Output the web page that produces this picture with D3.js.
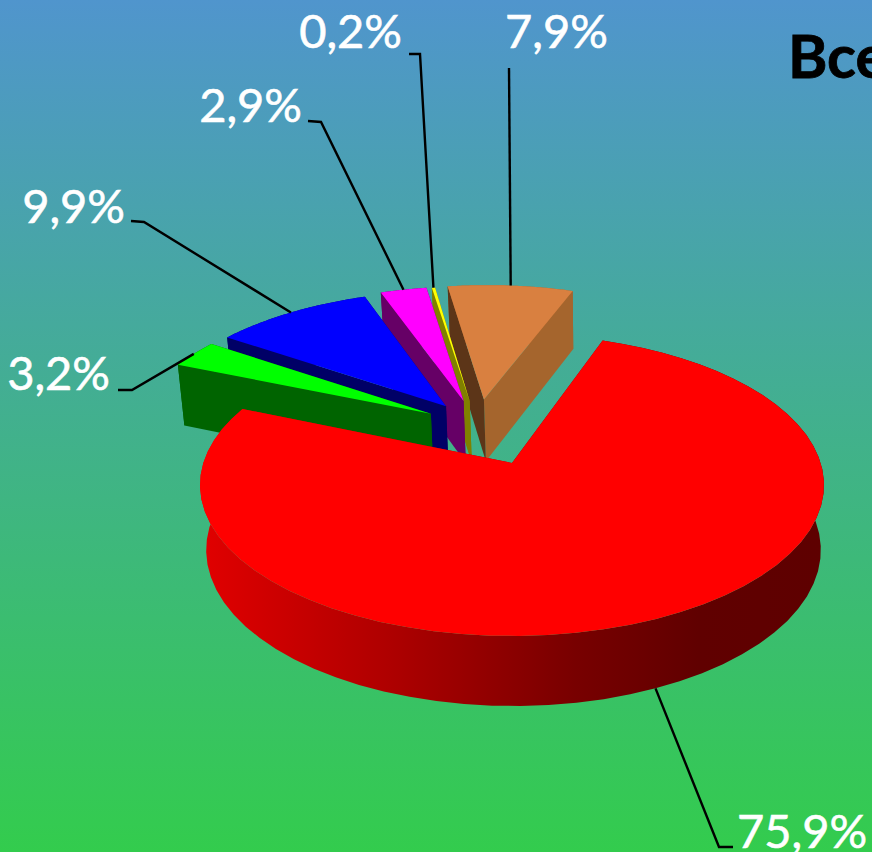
<!DOCTYPE html>
<html><head><meta charset="utf-8">
<script src="https://cdnjs.cloudflare.com/ajax/libs/d3/7.8.5/d3.min.js"></script>
<style>html,body{margin:0;padding:0;overflow:hidden;background:#4a9fb0}svg{display:block}text{font-family:Lato,"Open Sans",sans-serif}</style>
</head><body><svg id="c" width="872" height="852"></svg>
<script>
const categories = ["a","b","c","d","e","f"];
const labels = ["75,9%","3,2%","9,9%","2,9%","0,2%","7,9%"];
const values = [75.9,3.2,9.9,2.9,0.2,7.9];
const topColors = ["#ff0000","#00ff00","#0000ff","#ff00ff","#ffff00","#d98040"];
const wallColors = ["url(#redWall)","#006400","#000066","#660066","#808000","#a5652d"];
const startWallColors = ["#800000","#006400","#000066","#660066","#808000","#5c3518"];
const title = "Все";
// explosion of each slice away from the pie centre, in radius units
const explode = [0.23,0.23,0.23,0.23,0.235,0.25];
// small shifts of the exploded slices in the pie plane (world units)
const shiftU = [0,0.019,0.008,-0.015,-0.015,-0.027];
const shiftV = [0,-0.03,-0.015,-0.015,-0.005,0];
const labelPos = [[737,848,"start"],[110,390,"end"],[125,223,"end"],[302,122,"end"],[402,48,"end"],[505,48,"start"]];
const elbows = [[[733,847],[719,847]],[[118,390],[132,390]],[[131,221],[144,222]],[[308,121],[321,122]],[[409,54],[420,54]],[[509,68]]];

const W=872,H=852;
const svg=d3.select("#c");
const defs=svg.append("defs");
const bg=defs.append("linearGradient").attr("id","bg").attr("x1",0).attr("y1",0).attr("x2",0).attr("y2",1);
bg.append("stop").attr("offset",0).attr("stop-color","#5095cd");
bg.append("stop").attr("offset",1).attr("stop-color","#33cc4d");
const rw=defs.append("linearGradient").attr("id","redWall").attr("gradientUnits","userSpaceOnUse").attr("x1",205).attr("x2",822).attr("y1",0).attr("y2",0);
[[0,"#e00000"],[0.3,"#ae0000"],[0.6,"#780000"],[0.8,"#600000"],[1,"#5e0000"]].forEach(s=>rw.append("stop").attr("offset",s[0]).attr("stop-color",s[1]));
svg.append("rect").attr("width",W).attr("height",H).attr("fill","url(#bg)");

// perspective of the pie plane
const k=0.1457,f=308.7,g=147.8,ox=512,oy=463,depth=64.2,depthPow=0.55,narrow=0.985,lowDx=1.5;
const rad=d3.scaleLinear().domain([0,360]).range([0,2*Math.PI]);
const pie=d3.pie().sort(null).startAngle(rad(19.5)).endAngle(rad(379.5));
const arcs=pie(values);
const dir=a=>[Math.sin(a),-Math.cos(a)];
const redMid=(arcs[0].startAngle+arcs[0].endAngle)/2;
const C=dir(redMid).map(d=>-d*explode[0]);
function proj(u,v,low){
  const s=1/(1-k*v);
  const x=f*u*s, y=g*v*s;
  if(!low) return [ox+x,oy+y];
  return [ox+lowDx+x*narrow,oy+y+depth*Math.pow(s,depthPow)];
}
function pt(i,r,a,low){
  const m=(arcs[i].startAngle+arcs[i].endAngle)/2,dm=dir(m),da=dir(a);
  return proj(C[0]+explode[i]*dm[0]+shiftU[i]+r*da[0],C[1]+explode[i]*dm[1]+shiftV[i]+r*da[1],low);
}
const line=d3.line();
function arcPts(i,low){
  const a0=arcs[i].startAngle,a1=arcs[i].endAngle;
  return d3.range(0,61).map(t=>pt(i,1,a0+(a1-a0)*t/60,low));
}
const order=[5,4,3,2,1,0];
const g0=svg.append("g");
order.forEach(i=>{
  const G=g0.append("g").attr("data-cat",categories[i]);
  const top=arcPts(i,false),bot=arcPts(i,true);
  G.append("path").attr("d",line(top.concat(bot.slice().reverse()))+"Z").attr("fill",wallColors[i]);
  const c0=pt(i,0,0,false),c1=pt(i,0,0,true);
  G.append("path").attr("d",line([c0,top[60],bot[60],c1])+"Z").attr("fill",wallColors[i]);
  G.append("path").attr("d",line([c0,top[0],bot[0],c1])+"Z").attr("fill",startWallColors[i]);
  G.append("path").attr("d",line([c0].concat(top))+"Z").attr("fill",topColors[i]);
});
// leaders
arcs.forEach((d,i)=>{
  const m=(d.startAngle+d.endAngle)/2;
  const end=pt(i,1,m,i===0);
  svg.append("path").attr("d",line(elbows[i].concat([end]))).attr("fill","none").attr("stroke","#000").attr("stroke-width",2.4);
  svg.append("text").attr("x",labelPos[i][0]).attr("y",labelPos[i][1]).attr("text-anchor",labelPos[i][2]).attr("font-size",47).attr("fill","#fff").attr("stroke","#fff").attr("stroke-width",0.6).text(labels[i]);
});
svg.append("text").attr("x",788).attr("y",78).attr("font-size",60).attr("font-weight",700).attr("fill","#000").attr("stroke","#000").attr("stroke-width",0.8).text(title);
</script></body></html>
